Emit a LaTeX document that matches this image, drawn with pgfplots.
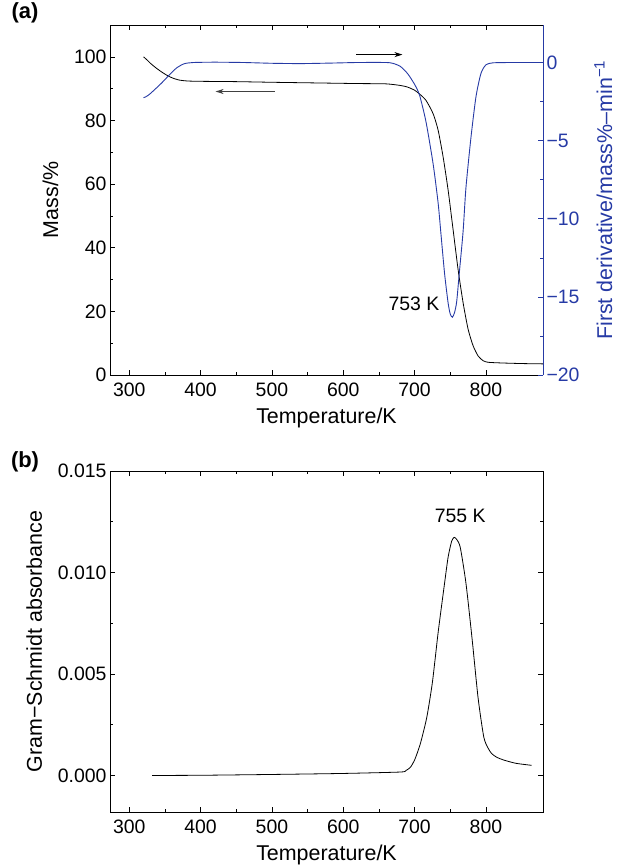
\documentclass[border=0pt]{standalone}
\usepackage{pgfplots}
\pgfplotsset{compat=1.18}
\usepackage{fontspec}
\setmainfont{Liberation Sans}
\usetikzlibrary{arrows.meta}
\definecolor{dblue}{RGB}{38,58,165}
\pgfplotsset{
  myax/.style={
    scale only axis, width=433bp,
    xmin=273, xmax=880,
    tick align=inside,
    major tick length=5bp, minor tick length=3bp,
    every tick/.style={line width=0.6bp},
    axis line style={line width=0.8bp},
    tick label style={font=\fontsize{19.5}{21}\selectfont},
    label style={font=\fontsize{21.5}{23}\selectfont},
    /pgf/number format/assume math mode=true,
    xtick={300,400,...,800}, minor x tick num=1,
    xticklabel style={yshift=-4bp},
    xlabel={Temperature/K},
    xlabel style={yshift=-5bp},
  }
}
\pgfplotstableread{
T m
320 100.0
325 99.0
330 97.9
337 96.6
345 95.3
352 94.3
360 93.4
370 92.7
382 92.4
400 92.3
450 92.2
500 92.0
560 91.8
620 91.6
660 91.5
680 91.0
690 90.5
700 89.5
707 88.3
716 86.3
726 82.1
733 76.9
740 68.5
747 58.1
754 45.6
761 33.1
768 22.7
775 14.4
782 9.2
789 6.0
796 4.5
803 4.0
820 3.8
850 3.6
880 3.5
}\masstab
\pgfplotstableread{
T d
320 -2.25
323 -2.2
328 -2.05
335 -1.76
345 -1.33
354 -0.9
366 -0.36
377 -0.08
390 0.0
420 0.02
460 0.0
500 -0.05
540 -0.07
580 -0.04
620 0.0
660 0.0
670 -0.06
680 -0.25
690 -0.7
700 -1.4
707 -2.1
716 -3.8
726 -6.5
733 -9.0
737 -11.0
742 -13.5
747 -15.4
750 -16.1
753 -16.3
756 -16.0
759 -15.3
763 -13.3
768 -10.8
772 -8.0
779 -4.8
786 -2.2
793 -0.7
800 -0.15
810 -0.02
840 0.0
880 0.0
}\dertab
\pgfplotstableread{
T a
332 0.0
400 0.00001
500 0.00005
600 0.0001
680 0.00017
688 0.00025
694 0.0004
700 0.00076
708 0.00156
717 0.00285
725 0.0046
733 0.00705
742 0.00947
747 0.01076
752 0.01155
755.5 0.01173
759 0.01163
764 0.01124
772 0.00947
780.6 0.00673
789 0.00382
797 0.00189
803 0.00135
808 0.00108
815 0.0009
825 0.00076
842 0.0006
864 0.0005
}\gstab
\begin{document}
\begin{tikzpicture}
\useasboundingbox (0,0) rectangle (620bp,-866bp);
% ---- panel (a), left axis
\begin{axis}[myax, at={(110bp,-375bp)}, anchor=south west, height=350bp,
  ymin=0, ymax=110, ytick={0,20,...,100}, minor y tick num=1,
  axis y line*=left, axis x line*=box,
  ylabel={Mass/\%}, ylabel shift=9bp]
\addplot[black, line width=0.8bp, smooth, tension=0.4] table[x=T,y=m] {\masstab};
\node[font=\fontsize{19.5}{21}\selectfont] at (axis cs:699,22.3) {753 K};
\draw[line width=0.8bp, -{Stealth[length=8bp,width=5bp]}] (axis cs:618,100.7) -- (axis cs:683,100.7);
\draw[line width=0.8bp, black!75, -{Stealth[length=8bp,width=5bp]}] (axis cs:504,89.1) -- (axis cs:421,89.1);
\end{axis}
% ---- panel (a), right axis
\begin{axis}[myax, at={(110bp,-375bp)}, anchor=south west, height=350bp,
  ymin=-20, ymax=2.4, ytick={-20,-15,...,0}, yticklabels={−20,−15,−10,−5,0},
  minor y tick num=1,
  axis y line*=right, axis x line=none,
  y axis line style={dblue, line width=0.8bp},
  ytick style={dblue, line width=0.6bp},
  yticklabel style={dblue},
  ylabel style={dblue},
  ylabel shift=8bp,
  ylabel={First derivative/mass\%–min\textsuperscript{−1}}]
\addplot[dblue, line width=0.9bp, smooth, tension=0.4] table[x=T,y=d] {\dertab};
\end{axis}
% ---- panel (b)
\begin{axis}[myax, at={(110bp,-812bp)}, anchor=south west, height=341bp,
  ymin=-0.0018, ymax=0.015, scaled y ticks=false,
  ytick={0,0.005,0.01,0.015}, yticklabels={0.000,0.005,0.010,0.015},
  minor y tick num=1,
  ylabel={Gram−Schmidt absorbance}, ylabel shift=9bp]
\addplot[black, line width=0.8bp, smooth, tension=0.4] table[x=T,y=a] {\gstab};
\node[font=\fontsize{19.5}{21}\selectfont] at (axis cs:764,0.0128) {755 K};
\end{axis}
\node[font=\bfseries\fontsize{22}{24}\selectfont] at (25bp,-13bp) {(a)};
\node[font=\bfseries\fontsize{22}{24}\selectfont] at (25bp,-462bp) {(b)};
\end{tikzpicture}
\end{document}
